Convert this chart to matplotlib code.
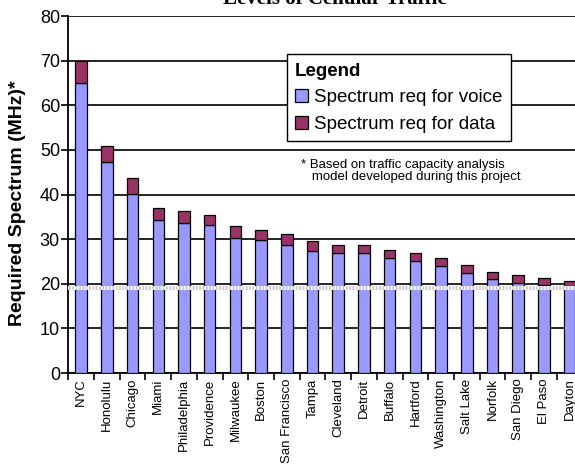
import numpy as np
import matplotlib
matplotlib.use("Agg")
import matplotlib.pyplot as plt
from matplotlib.patches import Patch

plt.rcParams['font.family'] = ['Liberation Sans', 'DejaVu Sans']

# data
cities = ["NYC", "Honolulu", "Chicago", "Miami", "Philadelphia", "Providence",
          "Milwaukee", "Boston", "San Francisco", "Tampa", "Cleveland", "Detroit",
          "Buffalo", "Hartford", "Washington", "Salt Lake", "Norfolk",
          "San Diego", "El Paso", "Dayton"]
voice = [65.0, 47.2, 40.2, 34.2, 33.6, 33.1, 30.2, 29.8, 28.6, 27.3,
         26.9, 26.9, 25.8, 25.2, 24.0, 22.5, 21.0, 20.2, 19.8, 19.4]
total = [70.0, 50.8, 43.6, 36.9, 36.2, 35.4, 32.9, 32.1, 31.1, 29.6,
         28.7, 28.7, 27.6, 27.0, 25.8, 24.2, 22.6, 21.9, 21.4, 20.7]
data = [t - v for t, v in zip(total, voice)]

voice_col = '#9999ff'
data_col = '#993366'

fig = plt.figure(figsize=(5.75, 4.65), dpi=100)
ax = fig.add_axes([68.3/575, 1-373/465, 514.2/575, 357/465])

x = np.arange(len(cities))
ax.bar(x, voice, width=0.45, color=voice_col, edgecolor='black', linewidth=0.9, zorder=3)
ax.bar(x, data, bottom=voice, width=0.45, color=data_col, edgecolor='black', linewidth=0.9, zorder=3)

ax.set_xlim(-0.5, len(cities) - 0.5)
ax.set_ylim(0, 80)
ax.set_yticks(range(0, 81, 10))
ax.tick_params(axis='y', labelsize=13, length=5, width=1.2, pad=1)
ax.yaxis.grid(True, color='black', linewidth=1.2, zorder=0)

# category labels at centres, tick marks between categories
ax.set_xticks(x)
ax.set_xticklabels(cities, rotation=90, fontsize=9.5)
ax.tick_params(axis='x', length=0, pad=4)
ax.set_xticks(np.arange(-0.5, len(cities), 1), minor=True)
ax.tick_params(axis='x', which='minor', length=5, width=1.2)

for s in ['top', 'right']:
    ax.spines[s].set_visible(False)
ax.spines['left'].set_linewidth(1.3)
ax.spines['bottom'].set_linewidth(1.3)

# axis break band
ax.axhspan(18.6, 19.6, facecolor='#cccccc', edgecolor='white', hatch='|||||',
           linewidth=0, zorder=4)

fig.text(18/575, 1-203/465, "Required Spectrum (MHz)*", rotation=90,
         fontsize=14, fontweight='bold', ha='center', va='center')
fig.text(335/575, 1-4/465, "Levels of Cellular Traffic", fontsize=15,
         fontweight='bold', family='Liberation Serif', ha='center', va='baseline')

handles = [Patch(facecolor=voice_col, edgecolor='black', linewidth=0.9),
           Patch(facecolor=data_col, edgecolor='black', linewidth=0.9)]
leg = ax.legend(handles, ["Spectrum req for voice", "Spectrum req for data"],
                title="Legend", loc='upper left',
                bbox_to_anchor=((286.7-68.3)/514.2, (373-54.3)/357),
                fontsize=13.5, title_fontproperties={'weight': 'bold', 'size': 13.5},
                frameon=True, fancybox=False, framealpha=1, edgecolor='black',
                handlelength=0.7, handleheight=0.7, handletextpad=0.3,
                borderpad=0.45, labelspacing=0.5, borderaxespad=0)
leg._legend_box.align = 'left'
leg.get_frame().set_linewidth(1.0)
leg.set_zorder(6)

ax.text((301-68.3)/514.2, (373-171)/357,
        "* Based on traffic capacity analysis\n   model developed during this project",
        transform=ax.transAxes, fontsize=9.5, va='center', ha='left',
        linespacing=1.05, zorder=6)

fig.savefig('out.png', dpi=100)
